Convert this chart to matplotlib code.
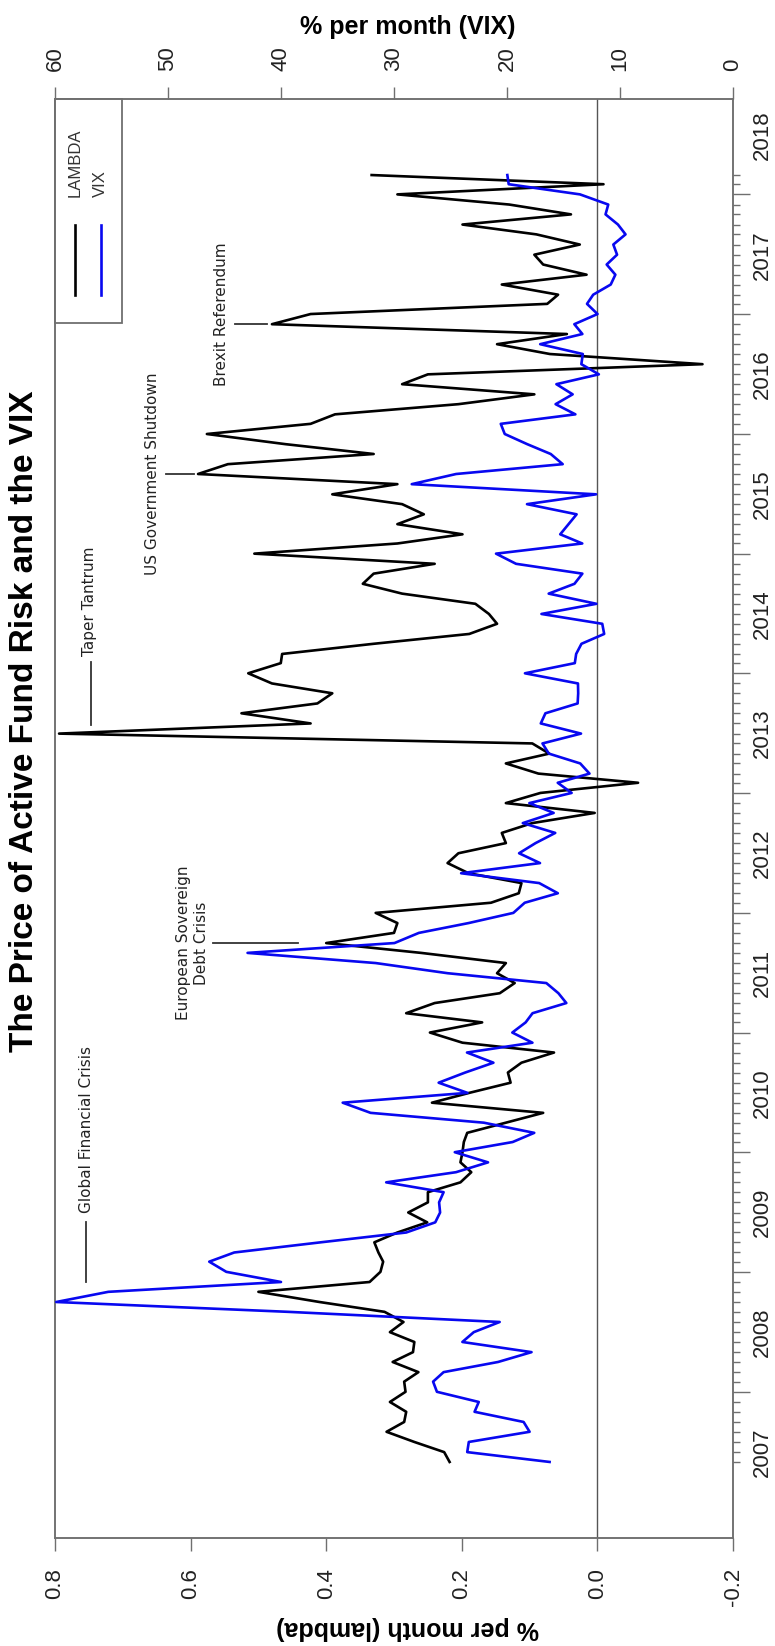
import numpy as np
import pandas as pd
import matplotlib
matplotlib.use('Agg')
import matplotlib.pyplot as plt
import matplotlib.dates as mdates
from matplotlib.ticker import FixedLocator, FormatStrFormatter
from matplotlib.transforms import blended_transform_factory
from matplotlib.patches import Rectangle
from matplotlib.lines import Line2D

# monthly observations, Jun 2007 - Mar 2018
months = pd.date_range('2007-06-01', '2018-03-01', freq='MS')

# price of active fund risk (lambda), % per month
lam = [0.218, 0.226, 0.27, 0.311, 0.285, 0.282, 0.306,
       0.283, 0.285, 0.264, 0.302, 0.272, 0.270, 0.306, 0.286, 0.314, 0.41, 0.50, 0.336,
       0.32, 0.316, 0.323, 0.329, 0.295, 0.251, 0.279, 0.25, 0.25, 0.202, 0.186, 0.202,
       0.199, 0.197, 0.192, 0.135, 0.080, 0.244, 0.189, 0.128, 0.132, 0.112, 0.064, 0.199,
       0.247, 0.17, 0.282, 0.24, 0.144, 0.122, 0.148, 0.135, 0.26, 0.40, 0.30, 0.295,
       0.327, 0.157, 0.116, 0.112, 0.19, 0.221, 0.205, 0.135, 0.141, 0.096, 0.004, 0.135,
       0.084, -0.06, 0.087, 0.135, 0.071, 0.096, 0.794, 0.423, 0.525, 0.413, 0.391, 0.48,
       0.515, 0.467, 0.465, 0.33, 0.189, 0.148, 0.16, 0.18, 0.288, 0.346, 0.33, 0.24,
       0.506, 0.295, 0.199, 0.295, 0.256, 0.288, 0.391, 0.295, 0.589, 0.545, 0.33, 0.46,
       0.576, 0.423, 0.387, 0.205, 0.093, 0.288, 0.25, -0.155, 0.07, 0.148, 0.045, 0.48,
       0.423, 0.074, 0.058, 0.141, 0.016, 0.08, 0.093, 0.026, 0.09, 0.199, 0.039, 0.13,
       0.295, -0.009, 0.333]

# VIX month-end level
vix = [16.23, 23.52, 23.38, 18.00, 18.53, 22.87, 22.50,
       26.20, 26.54, 25.61, 20.79, 17.83, 23.95, 22.94, 20.65, 39.39, 59.89, 55.28, 40.00,
       44.84, 46.35, 44.14, 36.50, 28.92, 26.35, 25.92, 26.01, 25.61, 30.69, 24.51, 21.68,
       24.62, 19.50, 17.59, 22.05, 32.07, 34.54, 23.50, 26.05, 23.70, 21.20, 23.54, 17.75,
       19.53, 18.35, 17.74, 14.75, 15.45, 16.52, 25.25, 31.62, 42.96, 29.96, 27.80, 23.40,
       19.44, 18.43, 15.50, 17.15, 24.06, 17.08, 18.93, 17.47, 15.73, 18.60, 15.87, 18.02,
       14.28, 15.51, 12.70, 13.52, 16.30, 16.86, 13.45, 17.01, 16.60, 13.75, 13.70, 13.72,
       18.41, 14.00, 13.88, 13.41, 11.40, 11.57, 16.95, 12.09, 16.31, 14.03, 13.33, 19.20,
       20.97, 13.34, 15.29, 14.55, 13.84, 18.23, 12.12, 28.43, 24.50, 15.07, 16.13, 18.21,
       20.20, 20.55, 13.95, 15.70, 14.19, 15.63, 11.87, 13.42, 13.29, 17.06, 13.33, 14.04,
       11.99, 12.92, 12.37, 10.82, 10.41, 11.18, 10.26, 10.59, 9.51, 10.18, 11.28, 11.04,
       13.54, 19.85, 19.97]

years = list(range(2007, 2019))
lam_ticks = [-0.2, 0.0, 0.2, 0.4, 0.6, 0.8]
vix_ticks = [0, 10, 20, 30, 40, 50, 60]

plt.rcParams['font.family'] = ['Liberation Sans', 'DejaVu Sans']
plt.rcParams['axes.unicode_minus'] = False

GRAY = '#6f6f6f'
BLUE = '#0808f0'
ANN = dict(family='DejaVu Sans', fontsize=11, color='#222222')

fig = plt.figure(figsize=(7.75, 16.46), dpi=100)
ax = fig.add_axes([55 / 775, 108 / 1646, 678 / 775, 1439 / 1646])

ax.axvline(0, color='#555555', lw=1, zorder=1)
ax.plot(lam, months, color='black', lw=1.9, zorder=3)
ax.set_xlim(0.8, -0.2)
ax.set_ylim(pd.Timestamp('2006-10-12'), pd.Timestamp('2018-10-19'))

ax2 = ax.twiny()
ax2.plot(vix, months, color=BLUE, lw=1.9, zorder=3)
ax2.set_xlim(60, 0)

# lambda axis (bottom)
ax.set_xticks(lam_ticks)
ax.xaxis.set_major_formatter(FormatStrFormatter('%.1f'))
ax.tick_params(axis='x', bottom=True, top=False, direction='out', length=9.5,
               width=1, color=GRAY, labelsize=16, labelcolor='#222222',
               labelrotation=90, pad=12)
ax.set_xlabel('% per month (lambda)', fontsize=18, fontweight='bold',
              rotation=180, ha='center', va='center')
ax.xaxis.set_label_coords((408 - 55) / 678, (1538 - 1628) / 1439)

# VIX axis (top)
ax2.set_xticks(vix_ticks)
ax2.tick_params(axis='x', direction='out', length=9, width=1, color=GRAY,
                labelsize=16, labelcolor='#222222', labelrotation=90, pad=11)
ax2.set_xlabel('% per month (VIX)', fontsize=18, fontweight='bold',
               ha='center', va='center')
ax2.xaxis.set_label_coords((408 - 55) / 678, (1538 - 27) / 1439)

# date axis (right): long ticks each January, short ticks each month
jan = [d for d in months if d.month == 1]
ax.yaxis.set_major_locator(FixedLocator(mdates.date2num(jan)))
ax.yaxis.set_minor_locator(FixedLocator(mdates.date2num(months)))
ax.tick_params(axis='y', which='both', left=False, right=True,
               labelleft=False, labelright=False, direction='out',
               color=GRAY, width=1)
ax.tick_params(axis='y', which='major', length=12)
ax.tick_params(axis='y', which='minor', length=5)

tr = blended_transform_factory(ax.transAxes, ax.transData)
for y in years:
    ax.text(1.044, mdates.date2num(pd.Timestamp(f'{y}-07-01')), str(y),
            rotation=90, ha='center', va='center', fontsize=16,
            color='#222222', transform=tr, clip_on=False)

for a in (ax, ax2):
    for s in a.spines.values():
        s.set_color(GRAY)
        s.set_linewidth(1.1)

# legend box, top-left corner
ax.add_patch(Rectangle((0, 0.8443), 0.0988, 0.1557, transform=ax.transAxes,
                       facecolor='white', edgecolor=GRAY, lw=1.3, zorder=6,
                       clip_on=False))
for xl, col, name in [(0.0295, 'black', 'LAMBDA'), (0.0675, BLUE, 'VIX')]:
    ax.add_line(Line2D([xl, xl], [0.8638, 0.9124], transform=ax.transAxes,
                       color=col, lw=1.9, zorder=7))
    ax.text(xl, 0.9319, name, rotation=90, ha='center', va='bottom',
            fontsize=12, color='#333333', transform=ax.transAxes, zorder=7)

# event annotations
def d(s):
    return mdates.date2num(pd.Timestamp(s))

ax.plot([0.755, 0.755], [d('2008-12-01'), d('2009-06-01')], color='#333333', lw=1.3)
ax.text(0.753, d('2009-06-28'), 'Global Financial Crisis', rotation=90,
        ha='center', va='bottom', **ANN)

ax.plot([0.567, 0.442], [d('2011-10-01')] * 2, color='#333333', lw=1.3)
ax.text(0.597, d('2011-10-01'), 'European Sovereign\nDebt Crisis', rotation=90,
        ha='center', va='center', multialignment='center', **ANN)

ax.plot([0.747, 0.747], [d('2013-07-28'), d('2014-02-04')], color='#333333', lw=1.3)
ax.text(0.749, d('2014-02-22'), 'Taper Tantrum', rotation=90,
        ha='center', va='bottom', **ANN)

ax.plot([0.637, 0.595], [d('2015-09-01')] * 2, color='#333333', lw=1.3)
ax.text(0.656, d('2015-09-01'), 'US Government Shutdown', rotation=90,
        ha='center', va='center', **ANN)

ax.plot([0.535, 0.487], [d('2016-12-01')] * 2, color='#333333', lw=1.3)
ax.text(0.554, d('2017-01-01'), 'Brexit Referendum', rotation=90,
        ha='center', va='center', **ANN)

fig.text(25 / 775, 1 - 721 / 1646, 'The Price of Active Fund Risk and the VIX',
         rotation=90, ha='center', va='center', fontsize=24, fontweight='bold')

fig.savefig('out.png', dpi=100, facecolor='white')
